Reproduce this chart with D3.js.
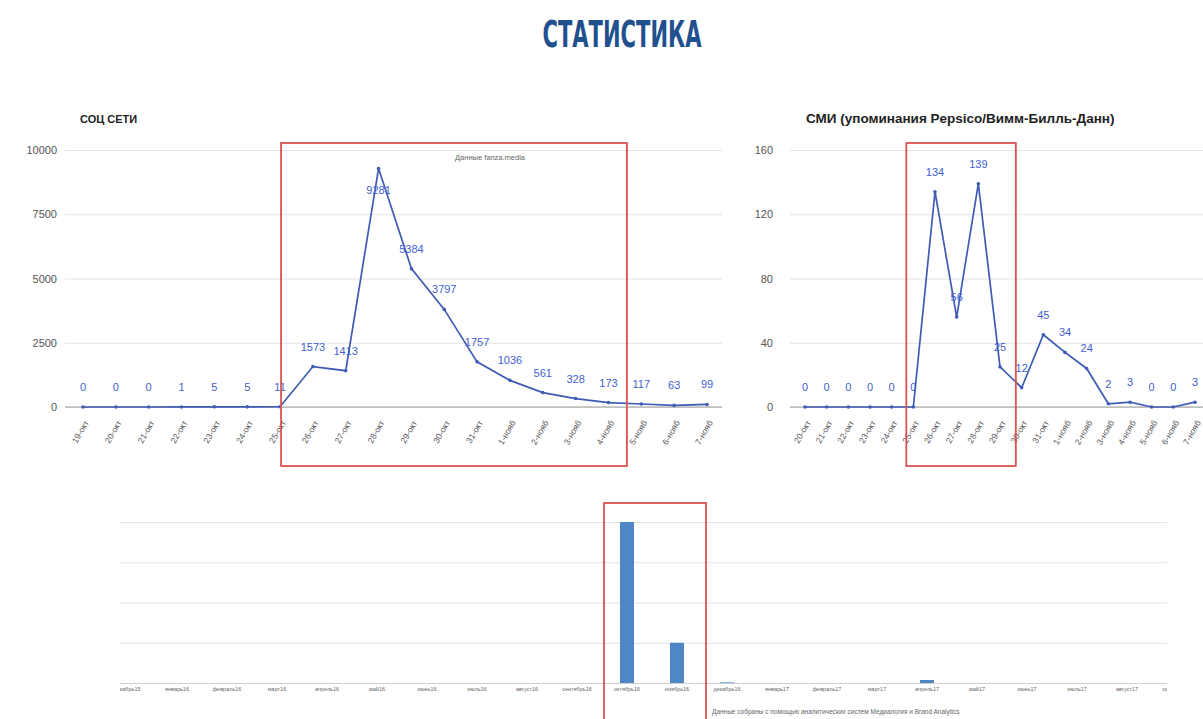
<!DOCTYPE html>
<html>
<head>
<meta charset="utf-8">
<script src="https://cdn.jsdelivr.net/npm/d3@7"></script>
<style>
  body { margin: 0; background: #fff; }
  svg { display: block; font-family: "Liberation Sans", Arial, sans-serif; }
</style>
</head>
<body>
<svg id="chart" width="1203" height="719"></svg>
<script>
// --- data ---
const socDays = ['19-окт', '20-окт', '21-окт', '22-окт', '23-окт', '24-окт', '25-окт', '26-окт', '27-окт', '28-окт',
  '29-окт', '30-окт', '31-окт', '1-нояб', '2-нояб', '3-нояб', '4-нояб', '5-нояб', '6-нояб', '7-нояб'];
const socValues = [0, 0, 0, 1, 5, 5, 11, 1573, 1413, 9281, 5384, 3797, 1757, 1036, 561, 328, 173, 117, 63, 99];
const socTicks = [0, 2500, 5000, 7500, 10000];

const smiDays = ['20-окт', '21-окт', '22-окт', '23-окт', '24-окт', '25-окт', '26-окт', '27-окт', '28-окт', '29-окт',
  '30-окт', '31-окт', '1-нояб', '2-нояб', '3-нояб', '4-нояб', '5-нояб', '6-нояб', '7-нояб'];
const smiValues = [0, 0, 0, 0, 0, 0, 134, 56, 139, 25, 12, 45, 34, 24, 2, 3, 0, 0, 3];
const smiTicks = [0, 40, 80, 120, 160];

const months = ['декабрь15', 'январь16', 'февраль16', 'март16', 'апрель16', 'май16', 'июнь16', 'июль16', 'август16',
  'сентябрь16', 'октябрь16', 'ноябрь16', 'декабрь16', 'январь17', 'февраль17', 'март17', 'апрель17', 'май17',
  'июнь17', 'июль17', 'август17', 'сентябрь17'];
const monthValues = [0, 0, 0, 0, 0, 0, 0, 0, 0, 0, 24000, 6000, 100, 0, 0, 0, 450, 0, 0, 0, 0, 0];
const monthTicks = [0, 6000, 12000, 18000, 24000];

const lineColor = '#3d5cb4';
const labelColor = '#3f5fd2';
const gridColor = '#e4e4e4';
const boxColor = '#d9534f';
const barColor = '#4f86c6';

const svg = d3.select('#chart');

// page title
svg.append('text')
  .attr('x', 622).attr('y', 47)
  .attr('text-anchor', 'middle')
  .attr('textLength', 159).attr('lengthAdjust', 'spacingAndGlyphs')
  .style('font-family', '"DejaVu Sans Condensed", "DejaVu Sans", sans-serif')
  .style('font-weight', 'bold').style('font-size', '38px')
  .attr('fill', '#21508f')
  .text('СТАТИСТИКА');

// one line chart with value labels
function lineChart(opts) {
  const data = opts.days.map((d, i) => ({ day: d, value: opts.values[i] }));
  const top = 150, bottom = 407;
  const x = d3.scalePoint().domain(opts.days).range(opts.xRange);
  const y = d3.scaleLinear().domain([0, d3.max(opts.ticks)]).range([bottom, top]);
  const g = svg.append('g');

  g.append('text')
    .attr('x', opts.titleX).attr('y', 123)
    .style('font-weight', 'bold').style('font-size', opts.titleSize + 'px')
    .attr('fill', '#222')
    .text(opts.title);

  // grid + y labels
  const yAxis = g.append('g')
    .attr('transform', `translate(${opts.gridLeft},0)`)
    .call(d3.axisLeft(y).tickValues(opts.ticks)
      .tickFormat(d3.format('d'))
      .tickSize(-(opts.gridRight - opts.gridLeft))
      .tickPadding(opts.gridLeft - opts.labelRight));
  yAxis.select('.domain').remove();
  yAxis.selectAll('line').attr('stroke', gridColor);
  yAxis.selectAll('text').attr('fill', '#555').style('font-size', '11px');

  g.append('line')
    .attr('x1', opts.gridLeft).attr('x2', opts.gridRight)
    .attr('y1', y(0)).attr('y2', y(0))
    .attr('stroke', '#9a9a9a');

  // x labels, rotated
  const xAxis = g.append('g')
    .attr('transform', `translate(0,${bottom})`)
    .call(d3.axisBottom(x).tickSize(0));
  xAxis.select('.domain').remove();
  xAxis.selectAll('text')
    .attr('x', 0).attr('y', 0).attr('dy', '0.35em')
    .attr('text-anchor', 'end')
    .attr('transform', 'translate(3,14) rotate(-60)')
    .attr('fill', '#555')
    .style('font-size', '8.5px');

  // the line and its dots
  g.append('path')
    .datum(data)
    .attr('fill', 'none')
    .attr('stroke', lineColor)
    .attr('stroke-width', 1.7)
    .attr('d', d3.line().x(d => x(d.day)).y(d => y(d.value)));

  g.selectAll('.dot').data(data).enter()
    .append('circle')
    .attr('class', 'dot')
    .attr('cx', d => x(d.day)).attr('cy', d => y(d.value))
    .attr('r', 1.8)
    .attr('fill', lineColor);

  // labels above the point, below it when there is no room
  g.selectAll('.val').data(data).enter()
    .append('text')
    .attr('class', 'val')
    .attr('x', d => x(d.day))
    .attr('y', d => {
      const above = y(d.value) - 20;
      return (above < top + 5 ? y(d.value) + 22 : above) + 4;
    })
    .attr('text-anchor', 'middle')
    .attr('fill', labelColor)
    .style('font-size', '11px')
    .text(d => d.value);

  return { x, y };
}

const soc = lineChart({
  title: 'СОЦ СЕТИ', titleX: 80, titleSize: 11,
  days: socDays, values: socValues, ticks: socTicks,
  xRange: [83, 707], gridLeft: 65, gridRight: 722, labelRight: 57
});

const smi = lineChart({
  title: 'СМИ (упоминания Pepsico/Вимм-Билль-Данн)', titleX: 806, titleSize: 13.5,
  days: smiDays, values: smiValues, ticks: smiTicks,
  xRange: [805, 1195], gridLeft: 790, gridRight: 1203, labelRight: 773
});

svg.append('text')
  .attr('x', 455).attr('y', 160)
  .attr('fill', '#666').style('font-size', '7.5px')
  .text('Данные fanza.media');

// red highlight boxes
const redBox = (x0, x1, y0, y1) => svg.append('rect')
  .attr('x', x0).attr('y', y0)
  .attr('width', x1 - x0).attr('height', y1 - y0)
  .attr('fill', 'none').attr('stroke', boxColor).attr('stroke-width', 1.8);

redBox(soc.x('25-окт') + 1, (soc.x('4-нояб') + soc.x('5-нояб')) / 2 + 2, 143, 466);
redBox(smi.x('25-окт') - 7, (smi.x('29-окт') + smi.x('30-окт')) / 2 + 5, 143, 466);

// bottom monthly bar chart
const bx = d3.scaleBand().domain(months).range([102, 1202]).paddingInner(0.72).paddingOuter(0.36);
const by = d3.scaleLinear().domain([0, d3.max(monthTicks)]).range([683, 522]);
const bLeft = 120, bRight = 1167;
const bg = svg.append('g');

bg.append('defs').append('clipPath').attr('id', 'bclip')
  .append('rect').attr('x', bLeft).attr('y', 500).attr('width', bRight - bLeft).attr('height', 219);

const bGrid = bg.append('g')
  .attr('transform', `translate(${bLeft},0)`)
  .call(d3.axisLeft(by).tickValues(monthTicks).tickSize(-(bRight - bLeft)).tickFormat(''));
bGrid.select('.domain').remove();
bGrid.selectAll('line').attr('stroke', d => d === 0 ? '#cfcfcf' : gridColor);

bg.selectAll('.bar').data(months.map((m, i) => ({ month: m, value: monthValues[i] }))).enter()
  .append('rect')
  .attr('class', 'bar')
  .attr('x', d => bx(d.month))
  .attr('width', bx.bandwidth())
  .attr('y', d => by(d.value))
  .attr('height', d => by(0) - by(d.value))
  .attr('fill', barColor);

const bAxis = bg.append('g')
  .attr('clip-path', 'url(#bclip)')
  .append('g')
  .attr('transform', `translate(0,${by(0)})`)
  .call(d3.axisBottom(bx).tickSize(0).tickPadding(4));
bAxis.select('.domain').remove();
bAxis.selectAll('text').attr('fill', '#666').style('font-size', '5.5px');

redBox(604, 706, 503, 725);

svg.append('text')
  .attr('x', 712).attr('y', 714)
  .attr('fill', '#666').style('font-size', '6.5px')
  .text('Данные собраны с помощью аналитических систем Медиалогия и Brand Analytics');
</script>
</body>
</html>
